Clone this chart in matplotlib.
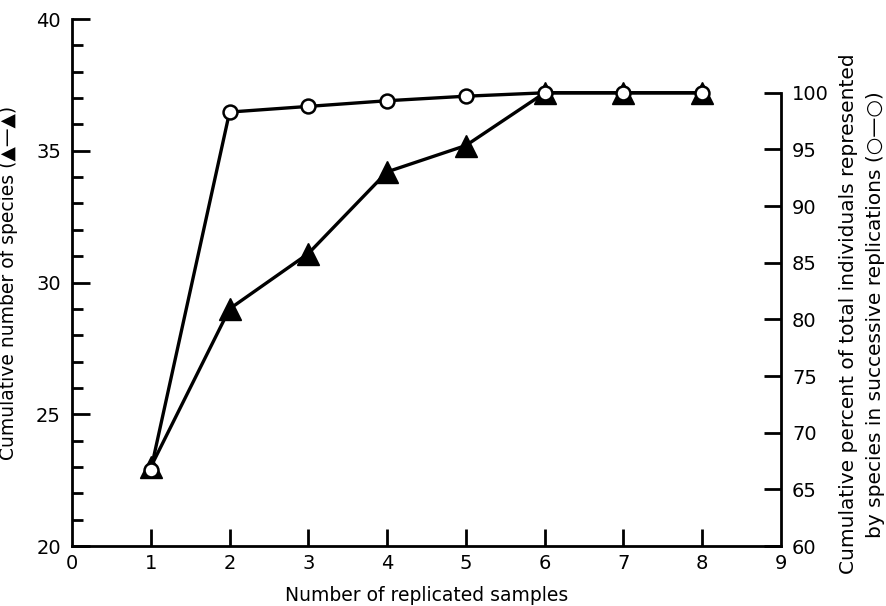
import numpy as np
import matplotlib
matplotlib.use("Agg")
import matplotlib.pyplot as plt
from matplotlib.ticker import MultipleLocator

# data
samples = [1, 2, 3, 4, 5, 6, 7, 8]
species = [23.0, 29.0, 31.1, 34.2, 35.2, 37.2, 37.2, 37.2]
percent = [66.7, 98.3, 98.8, 99.3, 99.7, 100.0, 100.0, 100.0]
x_ticks = [0, 1, 2, 3, 4, 5, 6, 7, 8, 9]
left_ticks = [20, 25, 30, 35, 40]
right_ticks = [60, 65, 70, 75, 80, 85, 90, 95, 100]

plt.rcParams['font.family'] = ['DejaVu Sans']
FS = 13.5   # axis titles
TFS = 14    # tick labels

fig = plt.figure(figsize=(8.87, 6.06), dpi=100)
ax = fig.add_axes([0.0812, 0.099, 0.7993, 0.8696])
ax2 = ax.twinx()

#--------------------------------------------------------------------
#                       series
#--------------------------------------------------------------------
ax.plot(samples, species, color='black', lw=2.4, marker='^', ms=16,
        mfc='black', mec='black', zorder=3, clip_on=False)
ax2.plot(samples, percent, color='black', lw=2.4, marker='o', ms=10,
         mfc='white', mec='black', mew=1.8, zorder=4, clip_on=False)
ax2.set_zorder(ax.get_zorder() + 1)
ax2.patch.set_visible(False)

#--------------------------------------------------------------------
#                       axes
#--------------------------------------------------------------------
ax.set_xlim(0, 9)
ax.set_ylim(20, 40)
# right axis: 60 sits on 20, 100 sits on the plateau of the species line
ax2.set_ylim(60, 60 + 40 * 20 / (37.2 - 20))

for a in (ax, ax2):
    for s in a.spines.values():
        s.set_linewidth(2.0)
    a.spines['top'].set_visible(False)
ax.spines['right'].set_visible(False)
ax2.spines['left'].set_visible(False)
ax2.spines['bottom'].set_visible(False)
ax2.spines['right'].set_bounds(60, 100)

ax.set_xticks(x_ticks)
ax.set_xticklabels([str(v) for v in x_ticks], fontsize=TFS)
ax.tick_params(axis='x', direction='in', length=12, width=2, pad=6)
for t in ax.xaxis.get_major_ticks():
    if t.get_loc() in (0, 9):
        t.tick1line.set_visible(False)

ax.set_yticks(left_ticks)
ax.set_yticklabels([str(v) for v in left_ticks], fontsize=TFS)
ax.yaxis.set_minor_locator(MultipleLocator(1))
ax.tick_params(axis='y', which='major', direction='in', length=13, width=2, pad=8)
ax.tick_params(axis='y', which='minor', direction='in', length=8, width=2)

ax2.set_yticks(right_ticks)
ax2.set_yticklabels([str(v) for v in right_ticks], fontsize=TFS)
ax2.tick_params(axis='y', direction='in', length=12, width=2, pad=8)

#--------------------------------------------------------------------
#                       labels
#--------------------------------------------------------------------
ax.set_xlabel('Number of replicated samples', fontsize=13.5, labelpad=9)
ax.set_ylabel('Cumulative number of species (\u25B2\u2014\u25B2)', fontsize=FS)
ax.yaxis.set_label_coords(-0.076, 0.5)

ax.text(1.114, 0.44,
        'Cumulative percent of total individuals represented\n'
        'by species in successive replications (\u25CB\u2014\u25CB)',
        transform=ax.transAxes, rotation=90, ha='center', va='center',
        multialignment='center', fontsize=14.5, linespacing=1.55)

fig.savefig('out.png', dpi=100)
